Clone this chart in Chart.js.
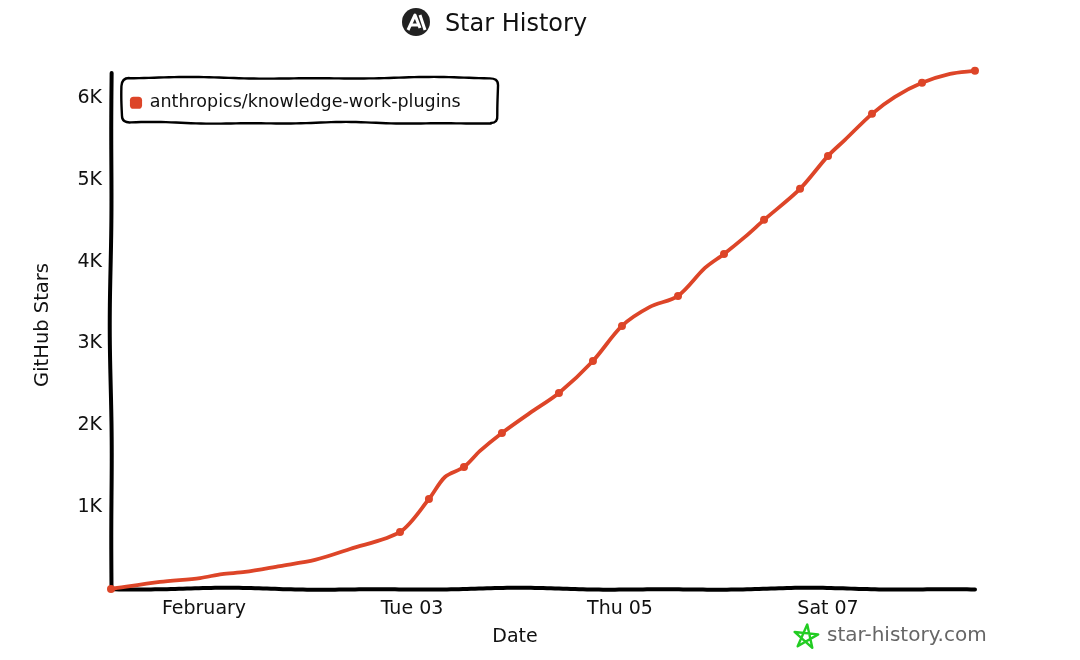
<!DOCTYPE html>
<html>
<head>
<meta charset="utf-8">
<style>html,body{margin:0;padding:0;background:#fff}canvas{display:block}</style>
<script src="https://cdn.jsdelivr.net/npm/chart.js@4"></script>
</head>
<body>
<canvas id="c" width="1080" height="660"></canvas>
<script>
const seriesName = 'anthropics/knowledge-work-plugins';
const days  = [0.106,0.577,0.962,1.173,1.394,1.731,2.067,2.404,2.885,3.163,3.317,3.5,3.654,3.865,4.135,4.413,4.74,5.019,5.288,5.558,5.817,6.0,6.202,6.385,6.731,7.0,7.163,7.423,7.644,7.904,8.173,8.413];
const stars = [0,86,134,183,208,281,355,489,697,1100,1369,1491,1687,1907,2152,2396,2787,3215,3447,3582,3924,4095,4303,4511,4890,5293,5489,5807,6015,6186,6296,6333];
const markedDays = [0.106,2.885,3.163,3.5,3.865,4.413,4.74,5.019,5.558,6.0,6.385,6.731,7.0,7.423,7.904,8.413];
const xTickDays = [1,3,5,7];
const xTickLabels = ['February','Tue 03','Thu 05','Sat 07'];
const yTickValues = [1000,2000,3000,4000,5000,6000];
const yTickLabels = ['1K','2K','3K','4K','5K','6K'];

const FONT = '"DejaVu Sans"';
const RED = '#dd4528';

function wob(t){ return 1.1*Math.sin(t/47)+0.7*Math.sin(t/23+1); }

const sketch = {
  id:'sketch',
  afterLayout(chart){
    const t = chart.titleBlock; t.left = 56; t.right = 976;
    const l = chart.legend; l.left = 117; l.top = 80;
    const x = chart.scales.x, y = chart.scales.y;
    x.right = 919;
    y.top = 61;
  },
  beforeDatasetsDraw(chart){
    const {ctx, chartArea:a} = chart;
    ctx.save();
    ctx.strokeStyle = '#000'; ctx.lineCap='round'; ctx.lineJoin='round'; ctx.lineWidth = 4;
    ctx.beginPath();
    for(let px=a.left; px<=a.right; px+=4){ const yy=a.bottom+wob(px)*0.7; px===a.left?ctx.moveTo(px,yy):ctx.lineTo(px,yy); }
    ctx.stroke();
    ctx.beginPath();
    for(let py=a.bottom; py>=a.top; py-=4){ const xx=a.left+wob(py*0.7)*0.7; py===a.bottom?ctx.moveTo(xx,py):ctx.lineTo(xx,py); }
    ctx.stroke();
    // legend frame
    const L=122,R=498,T=78,B=123,r=7;
    ctx.lineWidth=2.4;
    ctx.beginPath();
    ctx.moveTo(L+r,T);
    for(let px=L+r;px<=R-r;px+=5) ctx.lineTo(px,T+wob(px*1.2)*0.6);
    ctx.quadraticCurveTo(R,T,R,T+r);
    for(let py=T+r;py<=B-r;py+=3) ctx.lineTo(R+wob(py*2)*0.4,py);
    ctx.quadraticCurveTo(R,B,R-r,B);
    for(let px=R-r;px>=L+r;px-=5) ctx.lineTo(px,B+wob(px*1.5)*0.6);
    ctx.quadraticCurveTo(L,B,L,B-r);
    for(let py=B-r;py>=T+r;py-=3) ctx.lineTo(L+wob(py*2.4)*0.4,py);
    ctx.quadraticCurveTo(L,T,L+r,T);
    ctx.closePath(); ctx.stroke();
    ctx.restore();
  },
  afterDraw(chart){
    const {ctx} = chart;
    ctx.save();
    // title logo
    ctx.fillStyle='#222';
    ctx.beginPath(); ctx.arc(416,22,14,0,Math.PI*2); ctx.fill();
    ctx.strokeStyle='#fff'; ctx.lineWidth=3; ctx.lineJoin='round'; ctx.lineCap='butt';
    ctx.beginPath(); ctx.moveTo(408,30); ctx.lineTo(415,15); ctx.lineTo(420,28); ctx.stroke();
    ctx.beginPath(); ctx.moveTo(420,15); ctx.lineTo(425,30); ctx.stroke();
    ctx.beginPath(); ctx.moveTo(411,25); ctx.lineTo(418,25); ctx.stroke();
    // footer star
    ctx.strokeStyle='#22cc22'; ctx.lineWidth=2.4; ctx.lineJoin='round';
    const cx=806,cy=637,R=12.5;
    ctx.beginPath();
    for(let i=0;i<=5;i++){
      const an=-Math.PI/2+0.1+i*4*Math.PI/5;
      const px=cx+R*Math.cos(an), py=cy+R*Math.sin(an);
      i===0?ctx.moveTo(px,py):ctx.lineTo(px,py);
    }
    ctx.closePath(); ctx.stroke();
    ctx.fillStyle='#666'; ctx.font='20px '+FONT; ctx.textAlign='left'; ctx.textBaseline='middle';
    ctx.fillText('star-history.com',827,636);
    ctx.restore();
  }
};

new Chart(document.getElementById('c'),{
  type:'line',
  plugins:[sketch],
  data:{datasets:[{
    label:seriesName,
    data:days.map((d,i)=>({x:d,y:stars[i]})),
    borderColor:RED, backgroundColor:RED, borderWidth:3.8,
    tension:0.3, clip:false,
    pointRadius:c=>markedDays.includes(days[c.dataIndex])?4:0,
    pointHoverRadius:4, pointBackgroundColor:RED, pointBorderWidth:0
  }]},
  options:{
    responsive:false, animation:false, devicePixelRatio:1,
    layout:{padding:{left:0,right:104,top:0,bottom:0}},
    plugins:{
      tooltip:{enabled:false},
      title:{display:true,text:'Star History',color:'#111',font:{family:FONT,size:24,weight:'normal'},padding:{top:10,bottom:31}},
      legend:{position:'chartArea',align:'start',labels:{
        color:'#111',font:{family:FONT,size:17.5},usePointStyle:true,pointStyle:'rectRounded',
        boxWidth:10,boxHeight:10,padding:14
      }}
    },
    scales:{
      x:{type:'linear',min:0.106,max:8.423,
        grid:{display:false},border:{display:false},
        afterFit(s){s.height=71;},
        afterBuildTicks(s){s.ticks=xTickDays.map(v=>({value:v}));},
        ticks:{color:'#111',font:{family:FONT,size:19},padding:1,maxRotation:0,autoSkip:false,
          callback:v=>xTickLabels[xTickDays.indexOf(v)]??''},
        title:{display:true,text:'Date',color:'#111',font:{family:FONT,size:19},padding:{top:6,bottom:12}}
      },
      y:{min:0,max:6345,
        grid:{display:false},border:{display:false},
        afterFit(s){s.width=111;},
        afterBuildTicks(s){s.ticks=yTickValues.map(v=>({value:v}));},
        ticks:{color:'#111',font:{family:FONT,size:19},padding:1,autoSkip:false,
          callback:v=>yTickLabels[yTickValues.indexOf(v)]??''},
        title:{display:true,text:'GitHub Stars',color:'#111',font:{family:FONT,size:19.5},padding:{top:31,bottom:0}}
      }
    }
  }
});
</script>
</body>
</html>
